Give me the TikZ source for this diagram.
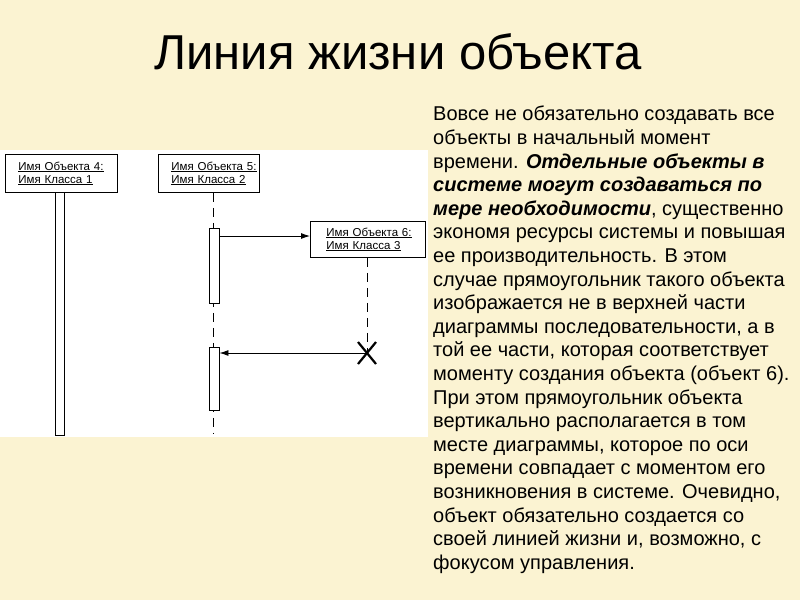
\documentclass[tikz,border=0pt]{standalone}
\usepackage{fontspec}
\setmainfont{Liberation Sans}
\usetikzlibrary{arrows.meta,calc}
\definecolor{bg}{RGB}{251,243,210}
\begin{document}
\begin{tikzpicture}[x=1pt,y=-1pt,
  obj/.style={draw,line width=0.9pt,fill=white,minimum height=38,inner ysep=2pt,inner xsep=13pt,text width=#1-26pt,font=\fontsize{11.5}{13}\selectfont,align=left},
  focus/.style={draw,line width=0.9pt,fill=white},
  msg/.style={line width=0.9pt,-{Latex[length=9pt,width=6pt]}},
  life/.style={line width=0.9pt,dash pattern=on 9pt off 6pt}]
\fill[bg] (0,0) rectangle (800,600);
\useasboundingbox (0,0) rectangle (800,600);
\fill[white] (0,150) rectangle (428,437);
\node[font=\fontsize{49}{52}\selectfont] (title) at (398,52) {Линия жизни объекта};
% object 4
\draw[line width=0.9pt,fill=white] (55,192) rectangle (64,435);
\node[obj=112pt,anchor=north west] (o4) at (5,154) {\underline{Имя Объекта 4:}\\\underline{Имя Класса 1}};
% object 5
\node[obj=101pt,anchor=north west] (o5) at (158,154) {\underline{Имя Объекта 5:}\\\underline{Имя Класса 2}};
\coordinate (l5end) at (213,434);
\draw[life] (o5.south -| l5end) -- (l5end);
\node[focus,minimum width=10,minimum height=75,inner sep=0,anchor=north] (f1) at (214,228) {};
\node[focus,minimum width=10,minimum height=63,inner sep=0,anchor=north] (f2) at (214,347) {};
% object 6
\node[obj=115pt,minimum height=36,inner xsep=16pt,text width=83pt,anchor=north west] (o6) at (310,221) {\underline{Имя Объекта 6:}\\\underline{Имя Класса 3}};
\coordinate (x6) at (367,353);
\draw[life] (o6.south -| x6) -- (x6);
\draw[line width=2.2pt] ($(x6)+(-9,-11)$) -- ($(x6)+(9,11)$) ($(x6)+(9,-11)$) -- ($(x6)+(-9,11)$);
\draw[msg] (f1.east |- 0,236) -- (o6.west |- 0,236);
\draw[msg] (x6) -- (f2.east |- x6);
% text
\node[anchor=north west,align=left,inner sep=0,font=\fontsize{20}{23.6}\selectfont] (txt) at (433,106) {%
Вовсе не обязательно создавать все\\
объекты в начальный момент\\
времени. \textbf{\textit{Отдельные объекты в}}\\
\textbf{\textit{системе могут создаваться по}}\\
\textbf{\textit{мере необходимости}}, существенно\\
экономя ресурсы системы и повышая\\
ее производительность. В этом\\
случае прямоугольник такого объекта\\
изображается не в верхней части\\
диаграммы последовательности, а в\\
той ее части, которая соответствует\\
моменту создания объекта (объект 6).\\
При этом прямоугольник объекта\\
вертикально располагается в том\\
месте диаграммы, которое по оси\\
времени совпадает с моментом его\\
возникновения в системе. Очевидно,\\
объект обязательно создается со\\
своей линией жизни и, возможно, с\\
фокусом управления.};
\end{tikzpicture}
\end{document}
